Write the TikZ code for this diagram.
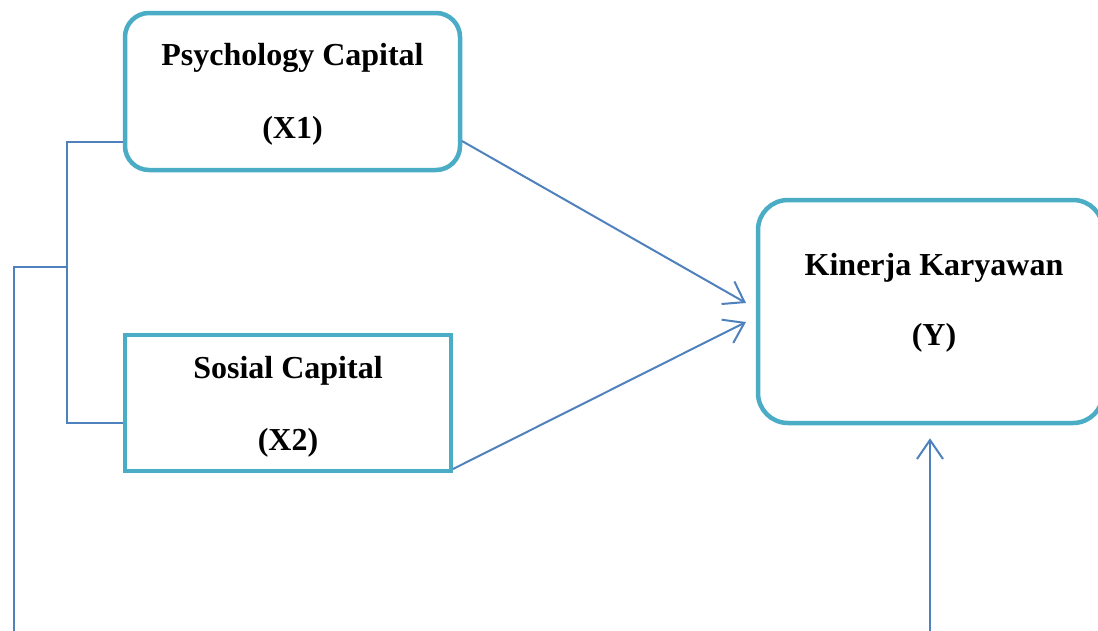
\documentclass[tikz,border=0pt]{standalone}
\usepackage{fontspec}
\setmainfont{Liberation Serif}
\usetikzlibrary{arrows.meta}
\definecolor{boxc}{HTML}{4BACC6}
\definecolor{linec}{HTML}{4F81BD}
\begin{document}
\begin{tikzpicture}[x=1pt,y=-1pt,
  box/.style={draw=boxc,line width=4.5pt,minimum width=#1,inner sep=0pt},
  lbl/.style={font=\fontsize{32}{36}\selectfont\bfseries,inner sep=0pt},
  conn/.style={draw=linec,line width=2pt},
  arr/.style={conn,-{Straight Barb[length=19pt,width=26pt,line width=2pt]}}]
\useasboundingbox (0,0) rectangle (1098,630);
\node[box=335pt,minimum height=157pt,rounded corners=24pt] (X1) at (292.5,91.5) {};
\node[box=326pt,minimum height=136pt] (X2) at (288,403) {};
\node[box=345pt,minimum height=223pt,rounded corners=30pt] (Y) at (930.5,311.5) {};
\node[lbl] (t1a) at (292.5,58) {Psychology Capital};
\node[lbl] (t1b) at (292.5,131) {(X1)};
\node[lbl] (t2a) at (288,371) {Sosial Capital};
\node[lbl] (t2b) at (288,443) {(X2)};
\node[lbl] (t3a) at (934,268) {Kinerja Karyawan};
\node[lbl] (t3b) at (934,338) {(Y)};
\coordinate (s1) at (462,141);
\coordinate (e1) at (746,303);
\coordinate (s2) at (453,469);
\coordinate (e2) at (746,322);
\coordinate (b1) at (67,142);
\coordinate (b2) at (67,423);
\coordinate (bm) at (67,267);
\coordinate (bl) at (14,267);
\coordinate (f1) at (14,632);
\coordinate (f2) at (930,632);
\draw[arr] (s1) -- (e1);
\draw[arr] (s2) -- (e2);
\draw[conn] (b1 -| X1.west) -- (b1) -- (b2) -- (b2 -| X2.west);
\draw[conn] (bm) -- (bl) -- (f1);
\draw[arr,shorten >=13pt] (f2) -- (Y.south -| f2);
\end{tikzpicture}
\end{document}
